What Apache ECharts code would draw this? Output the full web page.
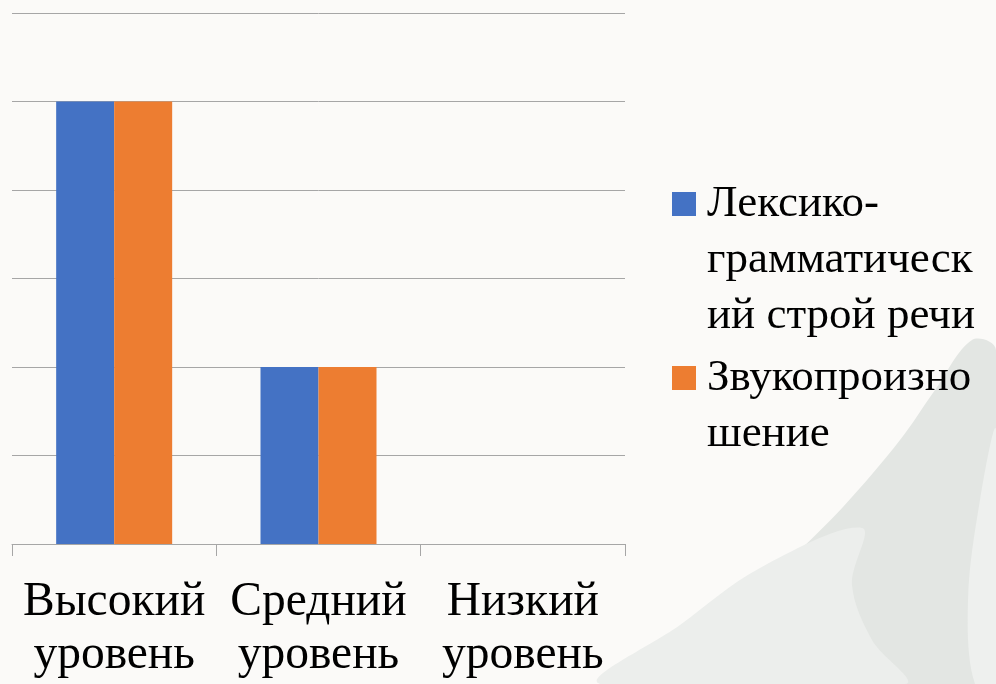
<!DOCTYPE html>
<html>
<head>
<meta charset="utf-8">
<script src="https://cdn.jsdelivr.net/npm/echarts@6/dist/echarts.min.js"></script>
<style>
  html, body { margin: 0; padding: 0; background: #fbfaf8; }
  #chart { width: 996px; height: 684px; }
</style>
</head>
<body>
<div id="chart"></div>
<script>
    // данные
    const categories = ['Высокий\nуровень', 'Средний\nуровень', 'Низкий\nуровень'];
    const seriesNames = ['Лексико-грамматический строй речи', 'Звукопроизношение'];
    const lexGram = [5, 2, 0];
    const sound = [5, 2, 0];
    // переносы строк в легенде как на слайде (пустые строки сверху — чтобы значок стоял у первой строки)
    const legendLabels = {
        'Лексико-грамматический строй речи': '\n\nЛексико-\nграмматическ\nий строй речи',
        'Звукопроизношение': '\nЗвукопроизно\nшение'
    };

    let myChart = echarts.init(document.getElementById('chart'));
    const legendCommon = {
        orient: 'vertical',
        left: 672,
        padding: 0,
        itemWidth: 24,
        itemHeight: 24,
        icon: 'rect',
        formatter: function (name) {
            return legendLabels[name];
        },
        textStyle: {
            fontFamily: 'Liberation Serif',
            fontSize: 45,
            lineHeight: 56,
            color: '#000',
            padding: [0, 0, 0, 6]
        }
    };
    // фон: светлые лепестки в правом нижнем углу
    const petal = function (points, fill, z) {
        return {
            type: 'polygon',
            z: z,
            silent: true,
            shape: {points: points, smooth: 0.35},
            style: {fill: fill}
        };
    };
    myChart.setOption({
        backgroundColor: '#fbfaf8',
        animation: false,
        graphic: [
            petal([[972, 340], [935, 390], [900, 440], [843, 507], [790, 560], [730, 620], [680, 684], [996, 684], [996, 350]], '#e3e6e3', -10),
            petal([[600, 684], [680, 625], [760, 568], [862, 528], [852, 585], [872, 640], [905, 684]], '#eceeec', -9),
            petal([[996, 430], [980, 500], [968, 600], [975, 684], [996, 684]], '#eef0ee', -9)
        ],
        legend: [
            Object.assign({}, legendCommon, {top: 64, data: [seriesNames[0]]}),
            Object.assign({}, legendCommon, {top: 294, data: [seriesNames[1]]})
        ],
        grid: {
            left: 12,
            right: 371,
            top: 13,
            bottom: 140
        },
        xAxis: [
            {
                type: 'category',
                data: categories,
                axisTick: {
                    show: true,
                    length: 12,
                    lineStyle: {color: '#a6a6a6'}
                },
                axisLine: {
                    lineStyle: {color: '#a6a6a6', width: 1}
                },
                axisLabel: {
                    interval: 0,
                    margin: 32.5,
                    fontFamily: 'Liberation Serif',
                    fontSize: 47.5,
                    lineHeight: 53,
                    color: '#000'
                }
            }
        ],
        yAxis: [
            {
                type: 'value',
                min: 0,
                max: 6,
                interval: 1,
                axisLabel: {show: false},
                axisLine: {show: false},
                axisTick: {show: false},
                splitLine: {
                    lineStyle: {color: '#a6a6a6', width: 1}
                }
            }
        ],
        series: [
            {
                name: seriesNames[0],
                type: 'bar',
                data: lexGram,
                barWidth: 58,
                barGap: '0%',
                itemStyle: {color: '#4472c4'}
            },
            {
                name: seriesNames[1],
                type: 'bar',
                data: sound,
                barWidth: 58,
                barGap: '0%',
                itemStyle: {color: '#ed7d31'}
            }
        ]
    });
</script>
</body>
</html>
